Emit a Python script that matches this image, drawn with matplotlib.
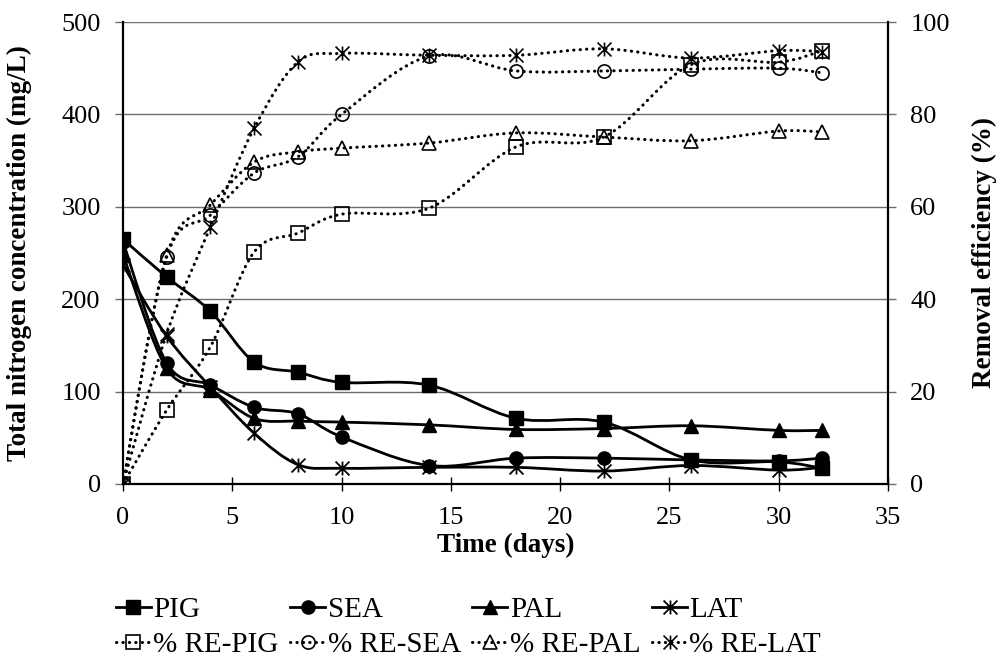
import numpy as np
import matplotlib
matplotlib.use("Agg")
import matplotlib.pyplot as plt
from matplotlib.path import Path
from matplotlib.patches import PathPatch
from matplotlib.lines import Line2D

plt.rcParams['font.family'] = ['Liberation Serif', 'DejaVu Serif']

days = [0, 2, 4, 6, 8, 10, 14, 18, 22, 26, 30, 32]

pig = [265, 224, 187, 132, 121, 110, 107, 71, 67, 26, 24, 17]
sea = [262, 131, 107, 83, 76, 51, 20, 28, 28, 26, 25, 28]
pal = [248, 125, 102, 71, 68, 67, 64, 59, 60, 63, 58, 58]
lat = [237, 160, 105, 55, 21, 17, 18, 18, 14, 20, 15, 18]

re_pig = [0, 16, 29.7, 50.2, 54.3, 58.4, 59.7, 73, 75.1, 90.8, 91.3, 93.8]
re_sea = [0, 49.1, 58.2, 67.3, 70.8, 80, 92.6, 89.4, 89.4, 89.8, 90, 89]
re_pal = [0, 49.5, 60.4, 69.7, 71.9, 72.7, 73.8, 76, 75.1, 74.3, 76.4, 76.2]
re_lat = [0, 32.5, 55.6, 77, 91.3, 93.2, 92.8, 92.8, 94.2, 92.2, 93.8, 93.6]

conc_names = ["PIG", "SEA", "PAL", "LAT"]
re_names = ["% RE-PIG", "% RE-SEA", "% RE-PAL", "% RE-LAT"]
x_ticks = [0, 5, 10, 15, 20, 25, 30, 35]
left_ticks = [0, 100, 200, 300, 400, 500]
right_ticks = [0, 20, 40, 60, 80, 100]

# Excel-style star: vertical bar plus an X
STAR = Path([(0, -1), (0, 1), (-1, -1), (1, 1), (-1, 1), (1, -1)],
            [Path.MOVETO, Path.LINETO, Path.MOVETO, Path.LINETO,
             Path.MOVETO, Path.LINETO])
markers = ['s', 'o', '^', STAR]
ms_list = [9.5, 9.5, 10, 10]

TICK_FS = 19
LAB_FS = 19.5
LEG_FS = 21


def smooth_path(x, y):
    """Excel-like smoothed line: Catmull-Rom segments as cubic Beziers."""
    p = np.column_stack([x, y]).astype(float)
    n = len(p)
    verts = [p[0]]
    codes = [Path.MOVETO]
    for i in range(n - 1):
        p0 = p[i - 1] if i > 0 else p[i]
        p1 = p[i]
        p2 = p[i + 1]
        p3 = p[i + 2] if i + 2 < n else p[i + 1]
        c1 = p1 + (p2 - p0) / 6.0
        c2 = p2 - (p3 - p1) / 6.0
        verts += [c1, c2, p2]
        codes += [Path.CURVE4] * 3
    return Path(verts, codes)


fig = plt.figure(figsize=(10.03, 6.61), dpi=100)
ax = fig.add_axes([0.1226, 0.2678, 0.7627, 0.6989])
ax2 = ax.twinx()

DOT = (0, (0.1, 2.0))

for vals, m, ms in zip([pig, sea, pal, lat], markers, ms_list):
    ax.add_patch(PathPatch(smooth_path(days, vals), fill=False, lw=2.0,
                           edgecolor='black', zorder=3, capstyle='round'))
    if m is STAR:
        ax.plot(days, vals, linestyle='none', marker=m, ms=ms, mec='black',
                mew=1.3, zorder=4)
    else:
        ax.plot(days, vals, linestyle='none', marker=m, ms=ms, mfc='black',
                mec='black', zorder=4)

for vals, m, ms in zip([re_pig, re_sea, re_pal, re_lat], markers, ms_list):
    ax2.add_patch(PathPatch(smooth_path(days, vals), fill=False, lw=2.2,
                            edgecolor='black', linestyle=DOT, capstyle='round',
                            zorder=3))
    ax2.plot(days, vals, linestyle='none', marker=m, ms=ms, mfc='none',
             mec='black', mew=1.2, zorder=4)

ax.set_xlim(0, 35)
ax.set_ylim(0, 500)
ax2.set_ylim(0, 100)
ax.set_xticks(x_ticks)
ax.set_yticks(left_ticks)
ax2.set_yticks(right_ticks)

ax.yaxis.grid(True, color='#6e6e6e', lw=1.0)
ax.set_axisbelow(True)

ax.spines['top'].set_visible(False)
ax2.spines['top'].set_visible(False)
ax2.spines['left'].set_visible(False)
ax2.spines['bottom'].set_visible(False)
ax.spines['right'].set_visible(False)
for sp in [ax.spines['left'], ax.spines['bottom'], ax2.spines['right']]:
    sp.set_linewidth(1.6)
    sp.set_color('black')

ax.tick_params(axis='x', direction='inout', length=10.5, width=1.0,
               labelsize=TICK_FS, pad=11)
ax.tick_params(axis='y', direction='out', length=6, width=1.0, color='#6e6e6e',
               labelsize=TICK_FS, pad=10)
ax2.tick_params(axis='y', direction='out', length=6, width=1.0,
                color='#6e6e6e', labelsize=TICK_FS, pad=10)

ax.set_xlabel("Time (days)", fontsize=LAB_FS, fontweight='bold', labelpad=3)
ax.set_ylabel("Total nitrogen concentration (mg/L)", fontsize=LAB_FS,
              fontweight='bold', labelpad=21)
ax2.set_ylabel("Removal efficiency (%)", fontsize=LAB_FS, fontweight='bold',
               labelpad=16)

# legend (column-major order for ncol=4)
handles, labels = [], []
for i in range(4):
    m, ms = markers[i], ms_list[i]
    if m is STAR:
        h1 = Line2D([], [], color='black', lw=2.0, marker=m, ms=ms, mew=1.3)
    else:
        h1 = Line2D([], [], color='black', lw=2.0, marker=m, ms=ms,
                    mfc='black')
    h2 = Line2D([], [], color='black', lw=2.2, linestyle=DOT,
                dash_capstyle='round', marker=m, ms=ms, mfc='none', mew=1.2)
    handles += [h1, h2]
    labels += [conc_names[i], re_names[i]]

fig.legend(handles, labels, ncol=4, loc='center', bbox_to_anchor=(0.467, 0.051),
           frameon=False, fontsize=LEG_FS, handlelength=1.2, handletextpad=0.08,
           columnspacing=0.4, labelspacing=0.28, borderaxespad=0)

fig.savefig("out.png", dpi=100)
